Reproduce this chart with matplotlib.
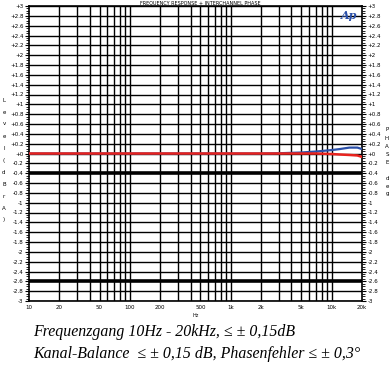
import numpy as np
import matplotlib
matplotlib.use("Agg")
import matplotlib.pyplot as plt
import matplotlib.ticker as ticker

# frequency response data (dB)
freqs = [10, 20, 50, 100, 200, 500, 1000, 2000, 3000, 5000, 7000, 10000, 12000, 15000, 18000, 20000]
left_ch = [0.0, 0.0, 0.0, 0.0, 0.0, 0.0, 0.0, 0.0, 0.005, 0.02, 0.04, 0.07, 0.09, 0.12, 0.12, 0.09]
right_ch = [0.0, 0.0, 0.0, 0.0, 0.0, 0.0, 0.0, 0.0, 0.0, 0.0, 0.0, -0.01, -0.02, -0.03, -0.04, -0.07]

xtick_vals = [10, 20, 50, 100, 200, 500, 1000, 2000, 5000, 10000, 20000]
xtick_labels = ['10', '20', '50', '100', '200', '500', '1k', '2k', '5k', '10k', '20k']
ytick_vals = np.round(np.arange(-3, 3.01, 0.2), 1)

def fmt(v):
    if abs(v) < 1e-9:
        return '+0'
    s = ('%g' % v)
    return ('+' + s) if v > 0 else s

fig = plt.figure(figsize=(3.92, 3.66), dpi=100)
ax = fig.add_axes([29/392, 1 - 301/366, 333/392, 295/366])
ax.set_xscale('log')
ax.set_xlim(10, 20000)
ax.set_ylim(-3, 3)

# grid
for f in [d * m for d in [10, 100, 1000, 10000] for m in range(1, 10)] + [20000]:
    if 10 < f < 20000:
        ax.axvline(f, color='black', lw=1.0, zorder=1)
for v in ytick_vals:
    lw = 2.6 if v in (-0.4, -2.6) else 1.0
    ax.axhline(v, color='black', lw=lw, zorder=1)

ax.plot(freqs, left_ch, color='#2a4fa8', lw=1.6, zorder=3)
ax.plot(freqs, right_ch, color='#e8231e', lw=1.8, zorder=4)

for s in ax.spines.values():
    s.set_linewidth(1.2)

ax.set_xticks(xtick_vals)
ax.set_xticklabels(xtick_labels)
ax.xaxis.set_minor_locator(ticker.NullLocator())
ax.set_yticks(ytick_vals)
ax.set_yticklabels([fmt(v) for v in ytick_vals])
ax.yaxis.set_minor_locator(ticker.MultipleLocator(0.05))
ax.tick_params(axis='x', labelsize=4, length=0, pad=3)
ax.tick_params(axis='y', labelsize=4, length=3, width=0.8, pad=1,
               left=True, right=True, labelleft=True, labelright=True)
ax.tick_params(axis='y', which='minor', length=2, width=0.6, left=True, right=True)

ax.text(0.5, -0.04, 'Hz', transform=ax.transAxes, ha='center', va='top', fontsize=3.5)
fig.text(200/392, 1 - 3/366, 'FREQUENCY RESPONSE + INTERCHANNEL PHASE',
         ha='center', va='center', fontsize=3.5)
ax.text(0.985, 0.985, 'Ap', transform=ax.transAxes, ha='right', va='top',
        fontsize=8, color='#2a4fa8', fontstyle='italic', fontweight='bold', family='DejaVu Serif')

# stacked axis labels
for i, ch in enumerate('Level(dBrA)'):
    fig.text(4/392, 1 - (100 + i * 12) / 366, ch, ha='center', va='center', fontsize=4)
for i, ch in enumerate('PHASE deg'):
    fig.text(387/392, 1 - (130 + i * 8) / 366, ch, ha='center', va='center', fontsize=4)

fig.text(33/392, 1 - 332/366, 'Frequenzgang 10Hz - 20kHz, \u2264 \u00b1 0,15dB',
         ha='left', va='center', fontsize=11.4, fontstyle='italic', family='Liberation Serif')
fig.text(33/392, 1 - 354/366, 'Kanal-Balance  \u2264 \u00b1 0,15 dB, Phasenfehler \u2264 \u00b1 0,3\u00b0',
         ha='left', va='center', fontsize=11.4, fontstyle='italic', family='Liberation Serif')

fig.savefig('out.png', dpi=100)
